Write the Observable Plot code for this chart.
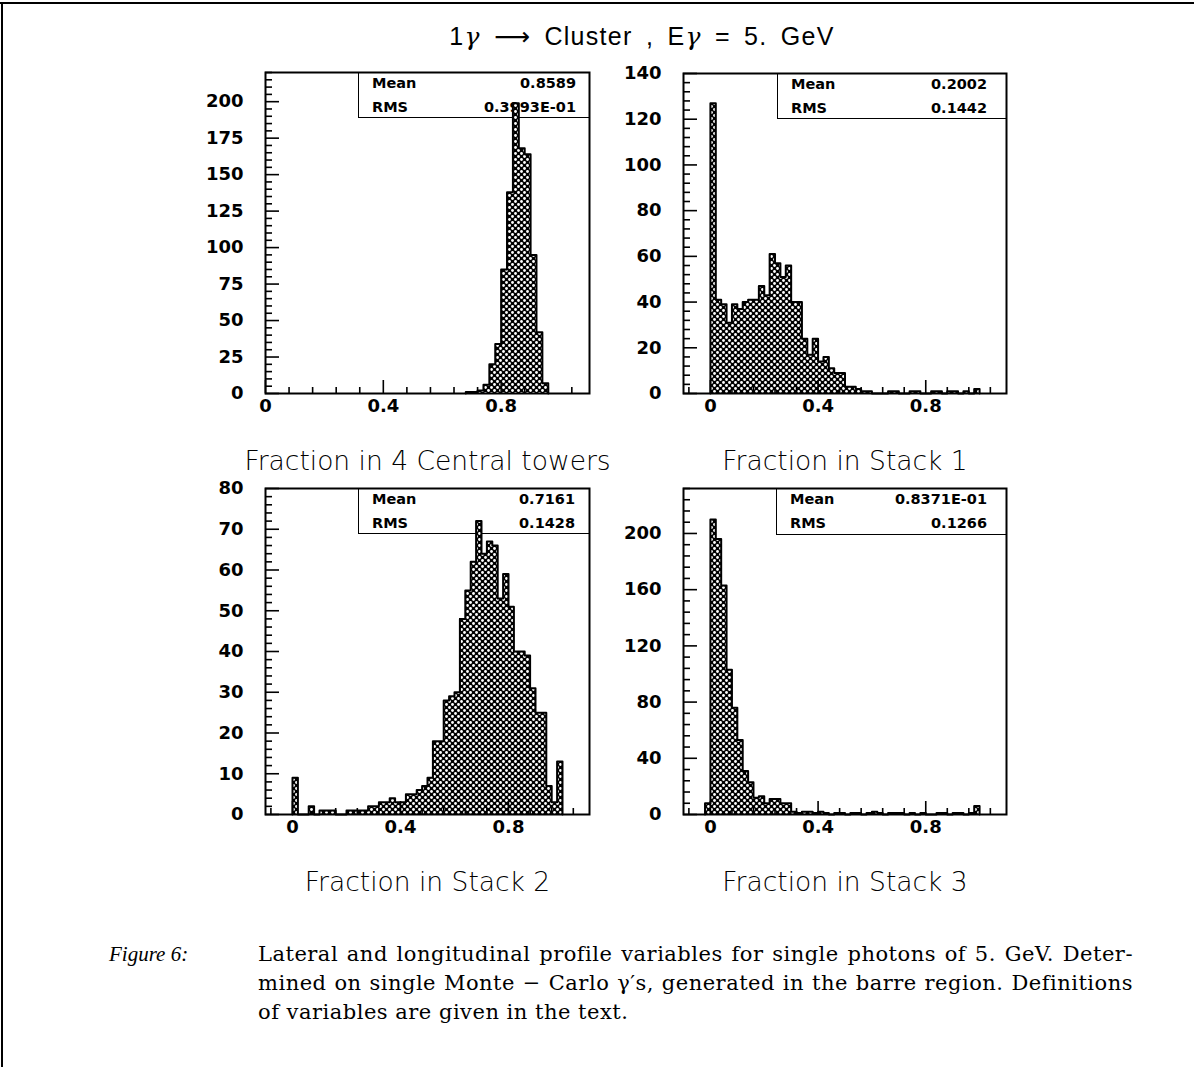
<!DOCTYPE html>
<html>
<head>
<meta charset="utf-8">
<script src="https://cdn.jsdelivr.net/npm/d3@7"></script>
<script src="https://cdn.jsdelivr.net/npm/@observablehq/plot@0.6"></script>
<style>
  html, body { margin: 0; padding: 0; background: #fff; }
  #page { position: relative; width: 1194px; height: 1067px; overflow: hidden; background: #fff; }
  #borderTop { position: absolute; left: 0; top: 2px; width: 1194px; height: 0; border-top: 2px solid #000; }
  #borderLeft { position: absolute; left: 1px; top: 2px; width: 0; height: 1065px; border-left: 2px solid #000; }
  #title { position: absolute; left: 0; width: 1284px; top: 24px; text-align: center; font-family: "Liberation Sans", "DejaVu Sans", sans-serif; font-size: 25px; line-height: 25px; letter-spacing: 1.3px; word-spacing: 5px; color: #000; white-space: nowrap; }
  #title .g { font-family: "DejaVu Serif", serif; font-style: italic; }
  .panel { position: absolute; }
  .panel svg { position: absolute; left: 0; top: 0; z-index: 1; }
  .stats { position: absolute; z-index: 0; box-sizing: border-box; border-left: 1.5px solid #000; border-bottom: 1.5px solid #000; font-family: "DejaVu Sans", sans-serif; font-weight: bold; font-size: 14.5px; color: #000; }
  .stats .row { position: absolute; left: 0; right: 0; height: 20px; line-height: 20px; display: flex; justify-content: space-between; }
  #figlabel { position: absolute; left: 109px; top: 940px; font-family: "Liberation Serif", serif; font-style: italic; font-size: 21px; line-height: 29px; white-space: nowrap; }
  #caption { position: absolute; left: 258px; top: 940px; width: 875px; font-family: "DejaVu Serif", serif; font-size: 21px; letter-spacing: 0.5px; line-height: 29px; }
  #caption .cl { white-space: nowrap; text-align: justify; text-align-last: justify; }
  #caption .cl.last { text-align: left; text-align-last: left; }
</style>
</head>
<body>
<svg width="0" height="0" style="position:absolute">
  <defs>
    <pattern id="dots" patternUnits="userSpaceOnUse" width="6" height="6">
      <rect width="6" height="6" fill="#000"></rect>
      <circle cx="1.5" cy="1.5" r="1.4" fill="#fff"></circle>
      <circle cx="4.5" cy="4.5" r="1.4" fill="#fff"></circle>
    </pattern>
  </defs>
</svg>
<div id="page">
  <div id="borderTop"></div>
  <div id="borderLeft"></div>
  <div id="title"></div>
  <div id="figlabel"></div>
  <div id="caption"></div>
</div>
<script>
// ---------------- data ----------------
const binWidth = 0.02;

// Fraction in 4 Central towers
const p1Start = 0.68;
const p1Counts = [1, 1, 2, 6, 20, 34, 85, 138, 199, 168, 164, 95, 42, 7];

// Fraction in Stack 1
const p2Start = 0.0;
const p2Counts = [127, 41, 39, 31, 39, 37, 40, 41, 41, 47,
                  43, 61, 57, 51, 56, 40, 40, 24, 17, 24,
                  14, 16, 11, 9, 9, 3, 3, 2, 1, 1,
                  0, 0, 0, 1, 1, 0, 0, 1, 1, 0,
                  0, 1, 1, 0, 1, 1, 0, 1, 0, 2];

// Fraction in Stack 2
const p3Start = 0.0;
const p3Counts = [9, 0, 0, 2, 0, 1, 1, 1, 0, 0,
                  1, 1, 1, 1, 2, 2, 3, 3, 4, 3,
                  3, 5, 5, 6, 7, 9, 18, 18, 28, 29,
                  30, 48, 55, 62, 72, 64, 67, 66, 53, 59,
                  51, 40, 40, 39, 31, 25, 25, 7, 3, 13];

// Fraction in Stack 3
const p4Start = -0.02;
const p4Counts = [8, 210, 196, 163, 103, 76, 53, 31, 23, 12,
                  13, 8, 11, 11, 8, 8, 2, 1, 2, 2,
                  1, 2, 1, 0, 1, 1, 0, 1, 1, 0,
                  1, 2, 1, 0, 1, 1, 1, 0, 1, 0,
                  1, 0, 0, 1, 1, 0, 1, 1, 0, 1, 6];

const xTickValues = [0, 0.4, 0.8];
const xTickLabels = ["0", "0.4", "0.8"];
const p1YTicks = [0, 25, 50, 75, 100, 125, 150, 175, 200];
const p2YTicks = [0, 20, 40, 60, 80, 100, 120, 140];
const p3YTicks = [0, 10, 20, 30, 40, 50, 60, 70, 80];
const p4YTicks = [0, 40, 80, 120, 160, 200];

const axisTitles = ["Fraction in 4 Central towers", "Fraction in Stack 1", "Fraction in Stack 2", "Fraction in Stack 3"];
const statNames = ["Mean", "RMS"];
const p1Stats = ["0.8589", "0.3993E-01"];
const p2Stats = ["0.2002", "0.1442"];
const p3Stats = ["0.7161", "0.1428"];
const p4Stats = ["0.8371E-01", "0.1266"];

// title pieces: [text, isGreek]
const titleParts = [["1", false], ["γ", true], [" ⟶ Cluster , E", false], ["γ", true], [" = 5. GeV", false]];
const captionLabel = "Figure 6:";
const captionLines = [
  "Lateral and longitudinal profile variables for single photons of 5. GeV.  Deter-",
  "mined on single Monte − Carlo γ′s, generated in the barre region. Definitions",
  "of variables are given in the text."
];

// ---------------- layout ----------------
const ML = 75, MR = 15, MT = 10, MB = 95;
const panels = [
  {frameLeft: 265, frameTop: 72, fw: 324, fh: 321, xDomain: [0, 1.1], yMax: 220, yMinorStep: 5,
   yTicks: p1YTicks, start: p1Start, counts: p1Counts, title: axisTitles[0], stats: p1Stats,
   box: {left: 358, bottom: 118, inL: 13, inR: 13}},
  {frameLeft: 683, frameTop: 73, fw: 323, fh: 320, xDomain: [-0.1, 1.1], yMax: 140, yMinorStep: 4,
   yTicks: p2YTicks, start: p2Start, counts: p2Counts, title: axisTitles[1], stats: p2Stats,
   box: {left: 777, bottom: 119, inL: 13, inR: 19}},
  {frameLeft: 265, frameTop: 488, fw: 324, fh: 326, xDomain: [-0.1, 1.1], yMax: 80, yMinorStep: 2,
   yTicks: p3YTicks, start: p3Start, counts: p3Counts, title: axisTitles[2], stats: p3Stats,
   box: {left: 358, bottom: 534, inL: 13, inR: 14}},
  {frameLeft: 683, frameTop: 488, fw: 323, fh: 326, xDomain: [-0.1, 1.1], yMax: 232, yMinorStep: 8,
   yTicks: p4YTicks, start: p4Start, counts: p4Counts, title: axisTitles[3], stats: p4Stats,
   box: {left: 776, bottom: 535, inL: 13, inR: 19}}
];

const page = document.getElementById("page");
const titleEl = document.getElementById("title");
titleParts.forEach(([t, g]) => {
  const s = document.createElement("span");
  if (g) s.className = "g";
  s.textContent = t;
  titleEl.appendChild(s);
});
document.getElementById("figlabel").textContent = captionLabel;
const cap = document.getElementById("caption");
captionLines.forEach((t, i) => {
  const d = document.createElement("div");
  d.className = "cl" + (i === captionLines.length - 1 ? " last" : "");
  d.textContent = t;
  cap.appendChild(d);
});

function drawPanel(cfg) {
  const bins = cfg.counts.map((c, i) => ({
    x1: cfg.start + i * binWidth,
    x2: cfg.start + (i + 1) * binWidth,
    count: c
  }));
  const outline = [{x: bins[0].x1, y: 0}]
    .concat(bins.map(b => ({x: b.x1, y: b.count})))
    .concat([{x: bins[bins.length - 1].x2, y: 0}]);

  const xMinor = d3.range(-1, 14).map(i => +(i * 0.08).toFixed(2))
    .filter(v => v >= cfg.xDomain[0] && v <= cfg.xDomain[1] && !xTickValues.includes(v));
  const yMinor = d3.range(0, cfg.yMax + 1e-9, cfg.yMinorStep).filter(v => !cfg.yTicks.includes(v));

  const W = ML + cfg.fw + MR, H = MT + cfg.fh + MB;
  const svg = Plot.plot({
    width: W, height: H,
    marginLeft: ML, marginRight: MR, marginTop: MT, marginBottom: MB,
    x: {domain: cfg.xDomain, label: null},
    y: {domain: [0, cfg.yMax], label: null},
    style: {fontFamily: "DejaVu Sans", fontSize: "18px", background: "transparent", overflow: "visible", color: "#000"},
    marks: [
      Plot.rectY(bins, {x1: "x1", x2: "x2", y: "count", fill: "url(#dots)", shapeRendering: "crispEdges"}),
      Plot.line(outline, {x: "x", y: "y", curve: "step-after", stroke: "#000", strokeWidth: 2}),
      Plot.axisX(xMinor, {tickSize: -6, tickFormat: () => "", label: null, strokeWidth: 1.6}),
      Plot.axisX(xTickValues, {tickSize: -13, tickFormat: () => "", label: null, strokeWidth: 1.6}),
      Plot.axisX(xTickValues, {tickSize: 0, tickPadding: 6, label: null, fontWeight: "bold",
        tickFormat: d => xTickLabels[xTickValues.indexOf(d)]}),
      Plot.axisY(yMinor, {tickSize: -7, tickFormat: () => "", label: null, strokeWidth: 1.6}),
      Plot.axisY(cfg.yTicks, {tickSize: -14, tickFormat: () => "", label: null, strokeWidth: 1.6}),
      Plot.axisY(cfg.yTicks, {tickSize: 0, tickPadding: 22, label: null, fontWeight: "bold", tickFormat: d => String(d)}),
      Plot.text([cfg.title], {text: d => d, frameAnchor: "bottom", dy: 68, lineAnchor: "middle",
        fontSize: 26.5, fontFamily: "DejaVu Sans", fontWeight: 300}),
      Plot.frame({stroke: "#000", strokeWidth: 2})
    ]
  });

  const div = document.createElement("div");
  div.className = "panel";
  const left = cfg.frameLeft - ML, top = cfg.frameTop - MT;
  div.style.left = left + "px";
  div.style.top = top + "px";
  div.style.width = W + "px";
  div.style.height = H + "px";

  const box = document.createElement("div");
  box.className = "stats";
  const bw = cfg.frameLeft + cfg.fw - cfg.box.left;
  const bh = cfg.box.bottom - cfg.frameTop;
  box.style.left = (cfg.box.left - left) + "px";
  box.style.top = MT + "px";
  box.style.width = bw + "px";
  box.style.height = bh + "px";
  statNames.forEach((n, i) => {
    const r = document.createElement("div");
    r.className = "row";
    r.style.top = (i === 0 ? 1 : 25) + "px";
    r.style.paddingLeft = cfg.box.inL + "px";
    r.style.paddingRight = cfg.box.inR + "px";
    const a = document.createElement("span"); a.textContent = n;
    const b = document.createElement("span"); b.textContent = cfg.stats[i];
    r.appendChild(a); r.appendChild(b);
    box.appendChild(r);
  });
  div.appendChild(box);
  div.appendChild(svg);
  page.appendChild(div);
}

panels.forEach(drawPanel);
</script>
</body>
</html>
